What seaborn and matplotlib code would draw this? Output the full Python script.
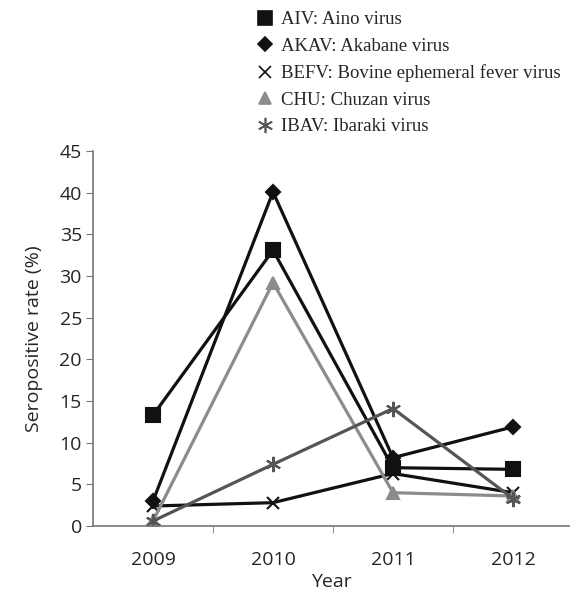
import pandas as pd
import matplotlib.pyplot as plt
from matplotlib.lines import Line2D
import seaborn as sns

years = ["2009", "2010", "2011", "2012"]
aiv = [13.3, 33.1, 7.0, 6.8]
akav = [3.0, 40.1, 8.2, 11.9]
befv = [2.4, 2.8, 6.3, 4.0]
chu = [0.6, 29.2, 4.0, 3.6]
ibav = [0.6, 7.4, 14.1, 3.3]

names = ["AIV: Aino virus", "AKAV: Akabane virus",
         "BEFV: Bovine ephemeral fever virus", "CHU: Chuzan virus",
         "IBAV: Ibaraki virus"]
series = [aiv, akav, befv, chu, ibav]
colors = ["#111111", "#111111", "#111111", "#8c8c8c", "#555555"]
markers = ["s", "D", "x", "^", (6, 2, 0)]
msizes = [10, 7, 9, 9, 11]

rows = []
for n, vals in zip(names, series):
    for i, v in enumerate(vals):
        rows.append({"virus": n, "x": i, "rate": v})
df = pd.DataFrame(rows)

sns.set_style("white")
plt.rcParams["font.family"] = ["Open Sans", "DejaVu Sans"]

fig = plt.figure(figsize=(5.7, 5.96), dpi=100)
ax = fig.add_axes([93 / 570, 70 / 596, 477 / 570, 0.629])

for n, c, m, ms in zip(names, colors, markers, msizes):
    sns.lineplot(data=df[df.virus == n], x="x", y="rate", ax=ax, color=c,
                 marker=m, markersize=ms, linewidth=2.3, markeredgewidth=1.5,
                 markeredgecolor=c, legend=False)

ax.set_xlim(-0.5, 3.475)
ax.set_ylim(0, 45)
ax.set_yticks(range(0, 46, 5))
ax.set_xticks([0, 1, 2, 3])
ax.set_xticklabels(years)
ax.set_xticks([0.5, 1.5, 2.5], minor=True)
ax.tick_params(axis="x", which="major", length=0, pad=18, labelsize=14)
ax.tick_params(axis="x", which="minor", length=5, color="#777777", direction="out")
ax.tick_params(axis="y", length=5, color="#777777", direction="out", labelsize=14, pad=3)
ax.xaxis.set_tick_params(bottom=True, which="minor")
ax.yaxis.set_tick_params(left=True)
ax.set_xlabel("Year", fontsize=14, labelpad=3)
ax.set_ylabel("Seropositive rate (%)", fontsize=14, labelpad=12)
for s in ["top", "right"]:
    ax.spines[s].set_visible(False)
for s in ["left", "bottom"]:
    ax.spines[s].set_color("#777777")
    ax.spines[s].set_linewidth(1.2)

handles = [Line2D([], [], linestyle="none", marker=m, markersize=ms, color=c,
                  markeredgecolor=c, markeredgewidth=1.2)
           for c, m, ms in zip(colors, markers, msizes)]
fig.legend(handles, names, loc="upper left", bbox_to_anchor=(242 / 570, 1.0),
           frameon=False, prop={"family": "Liberation Serif", "size": 13.5},
           handletextpad=0.3, labelspacing=0.5, handlelength=1.2,
           borderaxespad=0.2)

fig.savefig("out.png", dpi=100)
